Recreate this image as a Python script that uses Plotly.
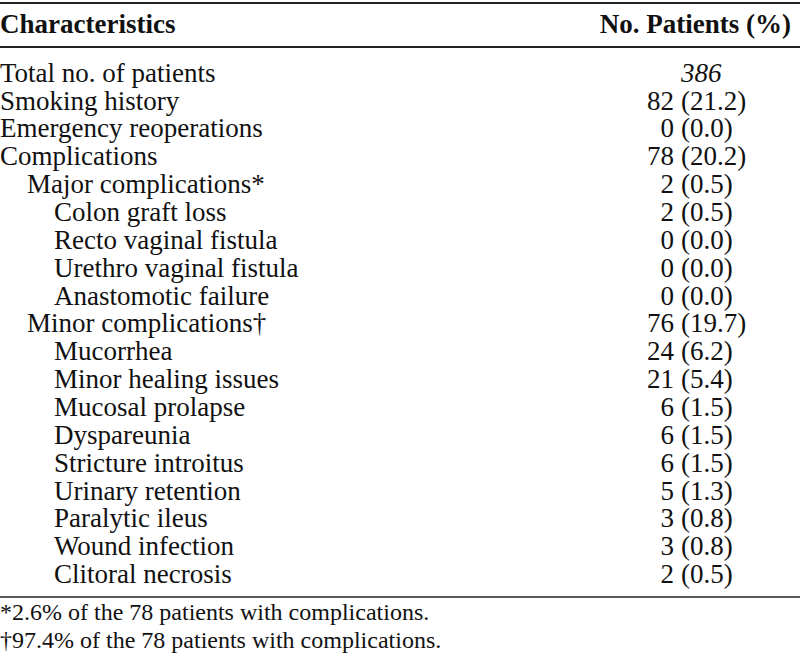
import plotly.graph_objects as go

# ---- data ----
labels = [
    "Total no. of patients", "Smoking history", "Emergency reoperations",
    "Complications", "Major complications*", "Colon graft loss",
    "Recto vaginal fistula", "Urethro vaginal fistula", "Anastomotic failure",
    "Minor complications†", "Mucorrhea", "Minor healing issues",
    "Mucosal prolapse", "Dyspareunia", "Stricture introitus",
    "Urinary retention", "Paralytic ileus", "Wound infection",
    "Clitoral necrosis",
]
indent = [0, 0, 0, 0, 1, 2, 2, 2, 2, 1, 2, 2, 2, 2, 2, 2, 2, 2, 2]
counts = [386, 82, 0, 78, 2, 2, 0, 0, 0, 76, 24, 21, 6, 6, 6, 5, 3, 3, 2]
pcts = [None, 21.2, 0.0, 20.2, 0.5, 0.5, 0.0, 0.0, 0.0, 19.7, 6.2, 5.4,
        1.5, 1.5, 1.5, 1.3, 0.8, 0.8, 0.5]
headers = ["Characteristics", "No. Patients (%)"]
footnotes = ["*2.6% of the 78 patients with complications.",
             "†97.4% of the 78 patients with complications."]

# ---- layout helpers ----
FONT = "Liberation Serif"
ROW0 = 75.0     # pixel centre of first row
ROWH = 27.85    # pixel row pitch
H = 658
W = 800
INDENT_PX = 27
rows = list(range(len(labels)))
y_of = lambda p: (p - ROW0) / ROWH

fig = go.Figure()

# labels
fig.add_trace(go.Scatter(
    x=[i * INDENT_PX for i in indent], y=rows, mode="text",
    text=labels, textposition="middle right",
    textfont=dict(family=FONT, size=27, color="#111"),
    hoverinfo="skip", showlegend=False, cliponaxis=False))

# counts (right aligned) – first row shown italic in the percent column
cnt_text = ["" if p is None else str(c) for c, p in zip(counts, pcts)]
fig.add_trace(go.Scatter(
    x=[674] * len(rows), y=rows, mode="text",
    text=cnt_text, textposition="middle left",
    textfont=dict(family=FONT, size=27, color="#111"),
    hoverinfo="skip", showlegend=False, cliponaxis=False))

pct_text = [f"<i>{c}</i>" if p is None else f"({p:.1f})" for c, p in zip(counts, pcts)]
fig.add_trace(go.Scatter(
    x=[681] * len(rows), y=rows, mode="text",
    text=pct_text, textposition="middle right",
    textfont=dict(family=FONT, size=27, color="#111"),
    hoverinfo="skip", showlegend=False, cliponaxis=False))

# headers
fig.add_trace(go.Scatter(
    x=[0], y=[y_of(26)], mode="text", text=[f"<b>{headers[0]}</b>"],
    textposition="middle right",
    textfont=dict(family=FONT, size=27, color="#111"),
    hoverinfo="skip", showlegend=False, cliponaxis=False))
fig.add_trace(go.Scatter(
    x=[791], y=[y_of(26)], mode="text", text=[f"<b>{headers[1]}</b>"],
    textposition="middle left",
    textfont=dict(family=FONT, size=27, color="#111"),
    hoverinfo="skip", showlegend=False, cliponaxis=False))

# footnotes
fig.add_trace(go.Scatter(
    x=[0, 0], y=[y_of(614), y_of(642)], mode="text", text=footnotes,
    textposition="middle right",
    textfont=dict(family=FONT, size=24, color="#111"),
    hoverinfo="skip", showlegend=False, cliponaxis=False))

# rules
for p, w in [(3, 2.2), (47, 1.8), (597, 1.6)]:
    fig.add_shape(type="line", xref="x", yref="y", x0=0, x1=W,
                  y0=y_of(p), y1=y_of(p), line=dict(color="#222", width=w))

fig.update_layout(
    width=W, height=H, margin=dict(l=0, r=0, t=0, b=0),
    paper_bgcolor="white", plot_bgcolor="white",
    xaxis=dict(range=[0, W], visible=False, fixedrange=True),
    yaxis=dict(range=[y_of(H), y_of(0)], visible=False, fixedrange=True),
)
fig.write_html(
    "out.html",
    config={"displayModeBar": False, "staticPlot": True},
    post_script="document.body.style.margin='0';document.body.style.overflow='hidden';",
)
